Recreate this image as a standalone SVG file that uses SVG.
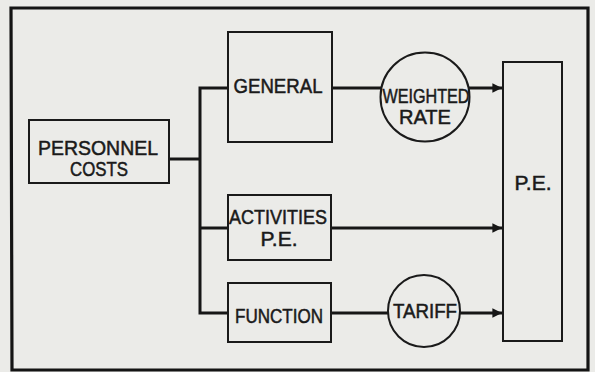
<svg xmlns="http://www.w3.org/2000/svg" width="595" height="372" viewBox="0 0 595 372">
<style>
.bg{fill:#ebebe8}
.box{fill:none;stroke:#1a1a1a;stroke-width:2}
.frame{fill:none;stroke:#141414;stroke-width:3.2}
.ln{fill:none;stroke:#161616;stroke-width:3}
.t{font-family:"Liberation Sans",Arial,sans-serif;font-size:20px;fill:#1a1a1a;stroke:#1a1a1a;stroke-width:0.5;text-anchor:middle}
</style>
<defs>
<marker id="ah" viewBox="0 0 10 10" refX="10" refY="5" markerWidth="3.2" markerHeight="3.2" orient="auto" markerUnits="strokeWidth">
<path d="M0,0 L10,5 L0,10 Z" fill="#161616"/>
</marker>
</defs>
<rect class="bg" x="0" y="0" width="595" height="372"/>
<polygon class="frame" points="11,8 588,8 588,370 12,370"/>
<g id="connectors">
<polyline class="ln" points="169,159 200,159"/>
<polyline class="ln" points="228,88 200,88 200,313 228,313"/>
<line class="ln" x1="200" y1="228" x2="228" y2="228"/>
<line class="ln" x1="332" y1="88" x2="381" y2="88"/>
<line class="ln" x1="469" y1="88" x2="502" y2="88" marker-end="url(#ah)"/>
<line class="ln" x1="331" y1="228" x2="502" y2="228" marker-end="url(#ah)"/>
<line class="ln" x1="331" y1="313" x2="389" y2="313"/>
<line class="ln" x1="460" y1="313" x2="502" y2="313" marker-end="url(#ah)"/>
</g>
<g id="personnel">
<rect class="box" x="29" y="120" width="140" height="63"/>
<text class="t" x="98" y="155" textLength="120" lengthAdjust="spacingAndGlyphs">PERSONNEL</text>
<text class="t" x="99" y="176" textLength="58" lengthAdjust="spacingAndGlyphs">COSTS</text>
</g>
<g id="general">
<rect class="box" x="228" y="32" width="104" height="110"/>
<text class="t" x="278" y="93" textLength="89" lengthAdjust="spacingAndGlyphs">GENERAL</text>
</g>
<g id="activities">
<rect class="box" x="228" y="195" width="103" height="65"/>
<text class="t" x="278" y="224" textLength="98" lengthAdjust="spacingAndGlyphs">ACTIVITIES</text>
<text class="t" x="279" y="246" textLength="37" lengthAdjust="spacingAndGlyphs">P.E.</text>
</g>
<g id="function">
<rect class="box" x="228" y="283" width="103" height="59"/>
<text class="t" x="279" y="323" textLength="88" lengthAdjust="spacingAndGlyphs">FUNCTION</text>
</g>
<g id="weighted">
<circle class="box" cx="425" cy="97" r="44.5"/>
<text class="t" x="426" y="103" textLength="87" lengthAdjust="spacingAndGlyphs">WEIGHTED</text>
<text class="t" x="425" y="124" textLength="52" lengthAdjust="spacingAndGlyphs">RATE</text>
</g>
<g id="tariff">
<circle class="box" cx="424" cy="311" r="36"/>
<text class="t" x="425" y="318" textLength="64" lengthAdjust="spacingAndGlyphs">TARIFF</text>
</g>
<g id="pe">
<rect class="box" x="503" y="62" width="59" height="279"/>
<text class="t" x="533" y="190" textLength="37" lengthAdjust="spacingAndGlyphs">P.E.</text>
</g>
</svg>
